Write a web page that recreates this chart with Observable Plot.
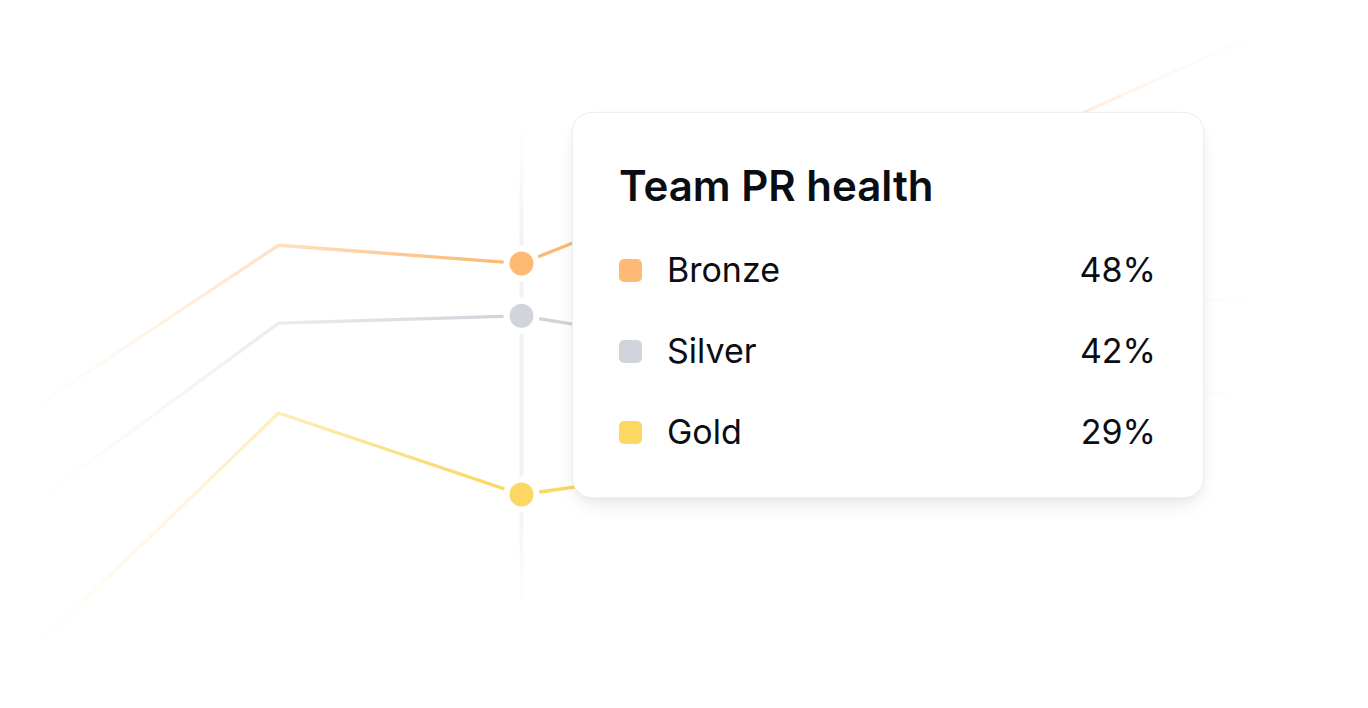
<!DOCTYPE html>
<html>
<head>
<meta charset="utf-8">
<script src="https://cdn.jsdelivr.net/npm/d3@7"></script>
<script src="https://cdn.jsdelivr.net/npm/@observablehq/plot@0.6"></script>
<style>
  html, body { margin: 0; padding: 0; background: #ffffff; }
  body { font-family: Inter, "Noto Sans", sans-serif; }
  #wrap { position: relative; width: 1368px; height: 708px; overflow: hidden; }
  #wrap svg { position: absolute; left: 0; top: 0; }
  .card {
    position: absolute; left: 572px; top: 112px; width: 632px; height: 386px;
    box-sizing: border-box; background: #fff; border-radius: 20px;
    border: 1px solid #EFEFF1;
    box-shadow: 0 10px 22px -8px rgba(16,24,40,0.14), 0 2px 6px rgba(16,24,40,0.03);
    color: #0B0D14;
  }
  .card .title {
    position: absolute; left: 46px; top: 52px; font-size: 42px; font-weight: 600;
    line-height: 1; white-space: nowrap;
  }
  .card .row {
    position: absolute; left: 46px; right: 47px; height: 40px;
    display: flex; align-items: center; font-size: 34px; line-height: 1;
  }
  .card .sw { width: 23px; height: 23px; border-radius: 5px; flex: none; }
  .card .lab { margin-left: 25px; flex: 1; }
  .card .val { text-align: right; }
</style>
</head>
<body>
<div id="wrap"></div>
<script>
// ---- data ----
const steps = [0, 1, 2, 3, 4, 5];
const seriesNames = ["Bronze", "Silver", "Gold"];
const seriesColors = ["#FDBA74", "#D1D5DB", "#FCD762"];
const bronze = [36.2, 49.5, 48.0, 56.0, 57.6, 66.6];
const silver = [28.4, 43.1, 43.7, 40.5, 44.8, 45.0];
const gold   = [16.4, 35.7, 29.0, 31.8, 37.1, 37.4];
const tooltipTitle = "Team PR health";
const tooltipValues = [48, 42, 29];
const focusStep = 2;

const seriesValues = [bronze, silver, gold];
const rows = seriesNames.flatMap((s, i) => steps.map((x, j) => ({series: s, x, y: seriesValues[i][j]})));
const focusRows = rows.filter(d => d.x === focusStep);

const W = 1368, H = 708;
const chart = Plot.plot({
  width: W, height: H, margin: 0,
  x: {domain: [0, 5], range: [35, 1250], axis: null},
  y: {domain: [0, 60], range: [846.6, 117.1], axis: null},
  color: {domain: seriesNames, range: seriesColors},
  style: {background: "transparent", overflow: "visible"},
  marks: [
    Plot.ruleX([focusStep], {y1: 19.4, y2: 59.4, stroke: "#F1F2F4", strokeWidth: 4}),
    Plot.line(rows, {x: "x", y: "y", z: "series", stroke: "series", strokeWidth: 3.3,
      strokeLinejoin: "miter", strokeLinecap: "butt", curve: "linear"}),
    Plot.dot(focusRows, {x: "x", y: "y", r: 18, fill: "white"}),
    Plot.dot(focusRows, {x: "x", y: "y", r: 12, fill: "series"})
  ]
});

// horizontal fade of the lines (mask), vertical fade of the rule
const svg = d3.select(chart);
const defs = svg.insert("defs", ":first-child");
const g1 = defs.append("linearGradient").attr("id", "fadeGrad")
  .attr("gradientUnits", "userSpaceOnUse").attr("x1", 0).attr("x2", W).attr("y1", 0).attr("y2", 0);
[[25, 0], [100, 0.08], [200, 0.25], [278, 0.45], [490, 1], [800, 1], [1012, 0.42], [1150, 0.1], [1270, 0]]
  .forEach(([x, a]) => {
    const v = Math.round(a * 255);
    g1.append("stop").attr("offset", x / W).attr("stop-color", `rgb(${v},${v},${v})`);
  });
const mask = defs.append("mask").attr("id", "fadeMask").attr("maskUnits", "userSpaceOnUse")
  .attr("x", 0).attr("y", 0).attr("width", W).attr("height", H);
mask.append("rect").attr("width", W).attr("height", H).attr("fill", "url(#fadeGrad)");
svg.selectAll('g[aria-label="line"]').attr("mask", "url(#fadeMask)");

const g2 = defs.append("linearGradient").attr("id", "ruleGrad")
  .attr("gradientUnits", "userSpaceOnUse").attr("x1", 0).attr("x2", 0).attr("y1", 125).attr("y2", 610);
[[0, 0], [0.25, 1], [0.75, 1], [1, 0]].forEach(([o, a]) =>
  g2.append("stop").attr("offset", o).attr("stop-color", "#F1F2F4").attr("stop-opacity", a));
svg.selectAll('g[aria-label="rule"]').attr("stroke", "url(#ruleGrad)")
  .selectAll("line").attr("stroke", "url(#ruleGrad)");

const wrap = document.getElementById("wrap");
wrap.appendChild(chart);

// tooltip card (HTML overlay)
const card = d3.select(wrap).append("div").attr("class", "card");
card.append("div").attr("class", "title").text(tooltipTitle);
const rowTops = [137, 218, 299];
seriesNames.forEach((s, i) => {
  const r = card.append("div").attr("class", "row").style("top", rowTops[i] + "px");
  r.append("div").attr("class", "sw").style("background", seriesColors[i]);
  r.append("div").attr("class", "lab").text(s);
  r.append("div").attr("class", "val").text(tooltipValues[i] + "%");
});
</script>
</body>
</html>
